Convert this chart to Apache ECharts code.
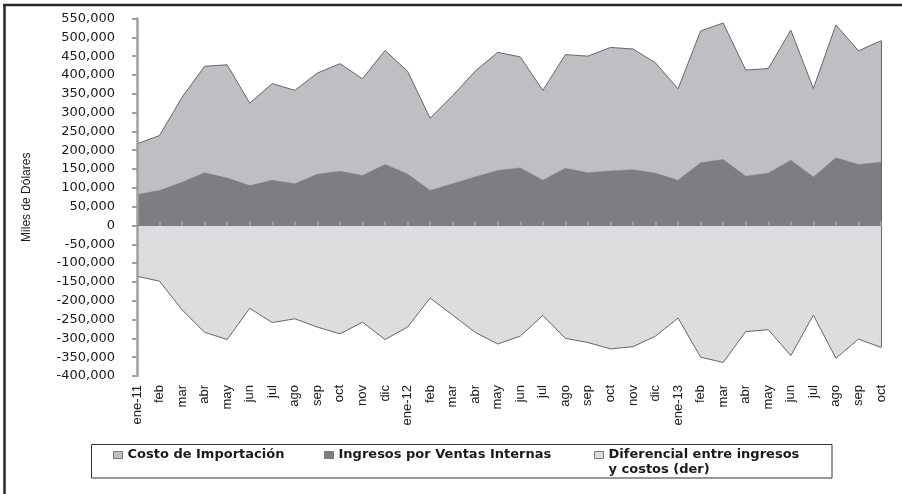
<!DOCTYPE html>
<html>
<head>
<meta charset="utf-8">
<script src="https://cdn.jsdelivr.net/npm/echarts@6/dist/echarts.min.js"></script>
<style>
html,body{margin:0;padding:0;background:#fff;}
#c{width:902px;height:494px;}
</style>
</head>
<body>
<div id="c"></div>
<script>
var months = ['ene-11','feb','mar','abr','may','jun','jul','ago','sep','oct','nov','dic',
              'ene-12','feb','mar','abr','may','jun','jul','ago','sep','oct','nov','dic',
              'ene-13','feb','mar','abr','may','jun','jul','ago','sep','oct'];

var costo = [217000,239000,341000,423000,427000,325000,377000,359000,405000,430000,390000,465000,
             410000,285000,345000,410000,460000,448000,359000,454000,450000,473000,469000,432000,
             363000,517000,538000,413000,417000,519000,364000,533000,464000,491000];

var ingresos = [82000,93000,115000,140000,126000,106000,120000,111000,136000,144000,133000,162000,
                137000,93000,111000,129000,146000,153000,120000,152000,140000,145000,148000,139000,
                120000,167000,175000,131000,139000,173000,129000,180000,162000,168000];

var diferencial = [-135000,-148000,-224000,-284000,-303000,-220000,-258000,-248000,-270000,-288000,-257000,-303000,
                   -270000,-193000,-238000,-284000,-315000,-294000,-239000,-300000,-311000,-328000,-322000,-294000,
                   -246000,-350000,-364000,-282000,-277000,-346000,-238000,-353000,-302000,-324000];

var yTicks = {min: -400000, max: 550000, interval: 50000};

var nameCosto = 'Costo de Importación';
var nameIngresos = 'Ingresos por Ventas Internas';
var nameDif = 'Diferencial entre ingresos y costos (der)';

function commas(v){
  var s = Math.abs(v).toString().replace(/\B(?=(\d{3})+(?!\d))/g, ',');
  return (v < 0 ? '-' : '') + s;
}

var cFill = '#bebfc3', iFill = '#7d7e82', dFill = '#dcdddf', edge = '#666668';
var last = months.length - 1;

var legendCommon = {
  orient: 'horizontal', padding: 0, itemWidth: 9, itemHeight: 7, icon: 'rect',
  selectedMode: false,
  itemStyle: {borderColor: '#7a7a7a', borderWidth: 1},
  textStyle: {fontFamily: 'DejaVu Sans', fontWeight: 'bold', fontSize: 13, color: '#1a1a1a', lineHeight: 15}
};
function mkLegend(extra){ return Object.assign({}, legendCommon, extra); }

var chart = echarts.init(document.getElementById('c'), null, {renderer: 'canvas'});
chart.setOption({
  animation: false,
  backgroundColor: '#ffffff',
  grid: {left: 137, right: 21, top: 18.5, bottom: 118, containLabel: false},
  legend: [
    mkLegend({left: 113, top: 447.5, data: [{name: nameCosto, itemStyle: {color: cFill}}]}),
    mkLegend({left: 324, top: 447.5, data: [{name: nameIngresos, itemStyle: {color: iFill}}]}),
    mkLegend({left: 594, top: 432.5, data: [{name: nameDif, itemStyle: {color: dFill}}],
      formatter: function(){ return '\nDiferencial entre ingresos\ny costos (der)'; }})
  ],
  xAxis: [
    {
      type: 'category', data: months, boundaryGap: false, position: 'bottom',
      axisLine: {show: false, onZero: false}, axisTick: {show: false},
      axisLabel: {rotate: 90, margin: 9, fontFamily: 'Liberation Sans', fontSize: 13, color: '#1a1a1a', interval: 0},
      splitLine: {show: false}
    },
    {
      type: 'category', data: months, boundaryGap: false, position: 'top', z: 5,
      axisLine: {show: true, onZero: true, lineStyle: {color: '#7d7e82', width: 1}},
      axisTick: {show: true, inside: false, length: 4, interval: 0, lineStyle: {color: '#a9a9ab', width: 1.5}},
      axisLabel: {show: false},
      splitLine: {show: false}
    }
  ],
  yAxis: {
    type: 'value', min: yTicks.min, max: yTicks.max, interval: yTicks.interval, z: 5,
    name: 'Miles de Dólares', nameLocation: 'middle', nameGap: 104,
    nameTextStyle: {fontFamily: 'Liberation Sans', fontSize: 12, color: '#1a1a1a'},
    axisLine: {show: true, lineStyle: {color: '#a0a0a0', width: 2.5}},
    axisTick: {show: true, inside: false, length: 5, lineStyle: {color: '#a0a0a0', width: 2}},
    axisLabel: {margin: 22, fontFamily: 'DejaVu Sans', fontSize: 13, color: '#1a1a1a', formatter: commas},
    splitLine: {show: false}
  },
  series: [
    {
      name: nameCosto, type: 'line', data: costo, symbol: 'none', z: 2,
      color: cFill,
      lineStyle: {color: edge, width: 1},
      areaStyle: {color: cFill, opacity: 1},
      markLine: {
        silent: true, symbol: 'none', label: {show: false},
        lineStyle: {color: edge, width: 1, type: 'solid'},
        data: [[{coord: [last, costo[last]]}, {coord: [last, diferencial[last]]}]]
      }
    },
    {
      name: nameIngresos, type: 'line', data: ingresos, symbol: 'none', z: 3,
      color: iFill,
      lineStyle: {color: iFill, width: 0.5},
      areaStyle: {color: iFill, opacity: 1}
    },
    {
      name: nameDif, type: 'line', data: diferencial, symbol: 'none', z: 2,
      color: dFill,
      lineStyle: {color: edge, width: 1},
      areaStyle: {color: dFill, opacity: 1}
    }
  ],
  graphic: [
    {type: 'line', shape: {x1: 3, y1: 5, x2: 902, y2: 5}, style: {stroke: '#2a2a2a', lineWidth: 2.5}, z: 100},
    {type: 'line', shape: {x1: 4.5, y1: 4, x2: 4.5, y2: 494}, style: {stroke: '#2a2a2a', lineWidth: 2.5}, z: 100},
    {type: 'rect', shape: {x: 91.5, y: 444.5, width: 740.5, height: 33.5}, style: {fill: 'none', stroke: '#333', lineWidth: 1}, z: 100}
  ]
});
</script>
</body>
</html>
